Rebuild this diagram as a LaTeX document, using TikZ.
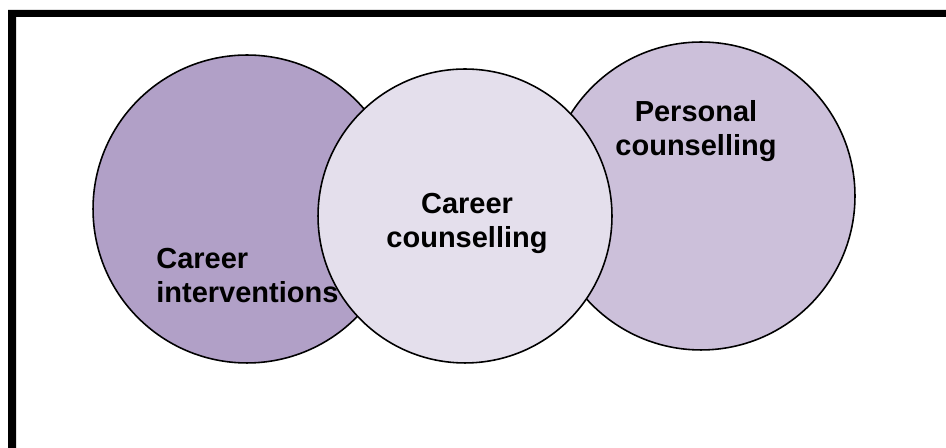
\documentclass[tikz,border=0pt]{standalone}
\usepackage{fontspec}
\setmainfont{Liberation Sans}
\definecolor{roxoEscuro}{HTML}{B1A0C7}
\definecolor{roxoMedio}{HTML}{CCC0DA}
\definecolor{roxoClaro}{HTML}{E4DFEC}
\begin{document}
\begin{tikzpicture}[x=0.02cm, y=-0.02cm,
    circulo/.style={circle, draw=black, line width=0.9pt, inner sep=0pt},
    rotulo/.style={font=\fontsize{16.5}{19.4}\selectfont\bfseries, inner sep=0pt}]
    % Area da figura
    \fill[white] (0,0) rectangle (946,448);

    % Moldura
    \fill[black] (8,10) -- (946,10) -- (946,17) -- (16,17) -- (16,448) -- (8,448) -- cycle;

    % Circulos
    \node[circulo, fill=roxoMedio, minimum size=6.16cm] (pessoal) at (701,196) {};
    \node[circulo, fill=roxoEscuro, minimum size=6.16cm] (intervencoes) at (247,209) {};
    \node[circulo, fill=roxoClaro, minimum size=5.88cm] (carreira) at (465,216) {};

    % Textos
    \node[rotulo, align=left, anchor=base west] (txtIntervencoes) at (156,303) {Career\\interventions};
    \node[rotulo, align=center, anchor=base] (txtCarreira) at (467,248) {Career\\counselling};
    \node[rotulo, align=center, anchor=base] (txtPessoal) at (696,156) {Personal\\counselling};
\end{tikzpicture}
\end{document}
